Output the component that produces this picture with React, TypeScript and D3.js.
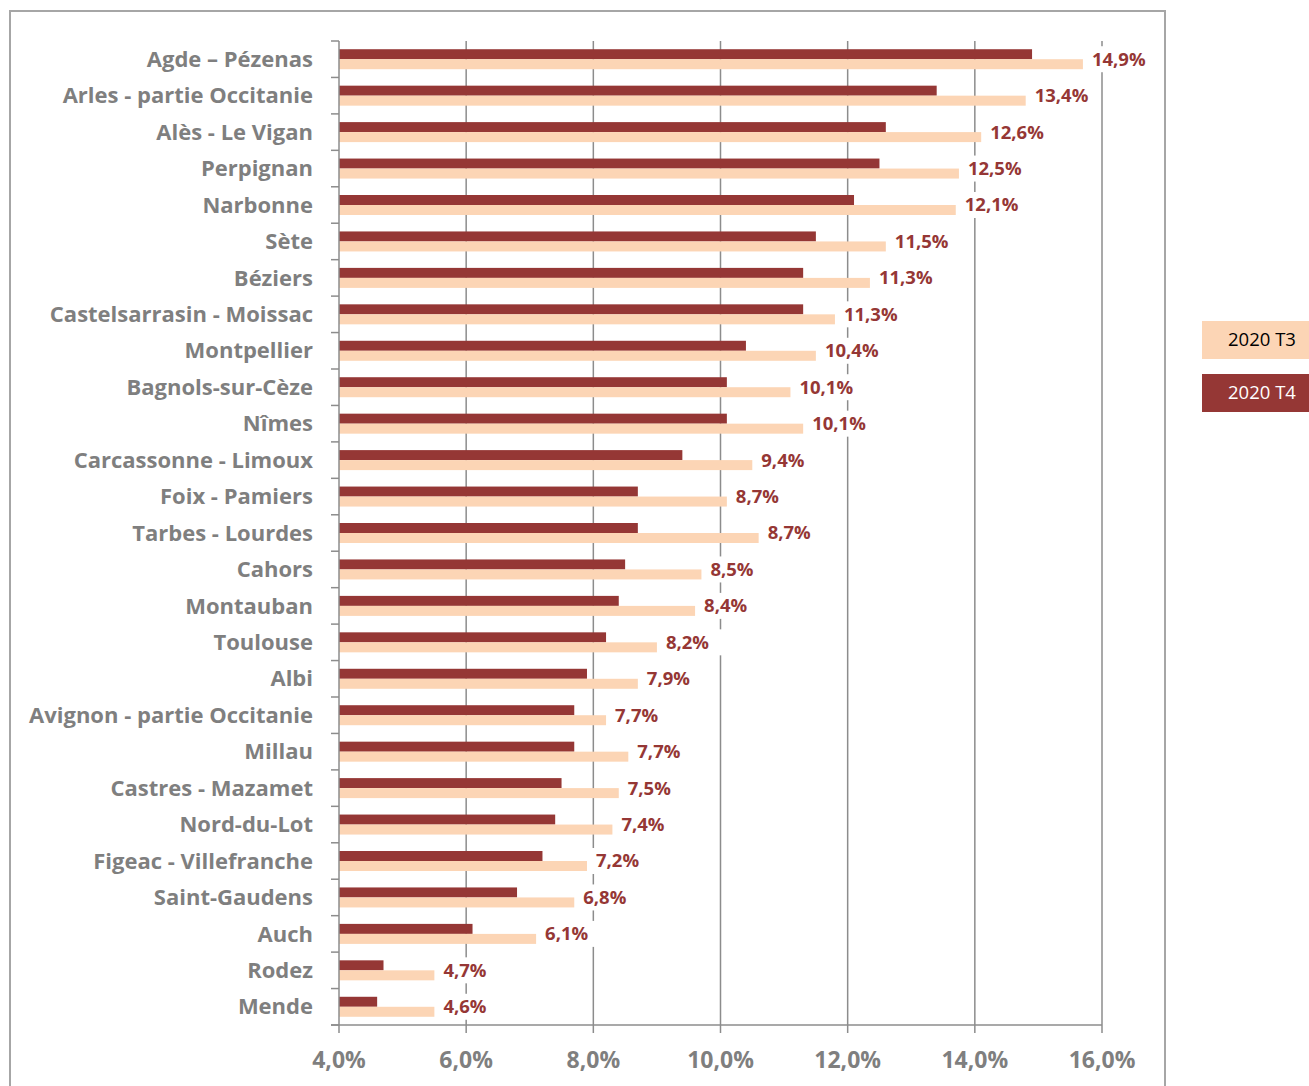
import * as d3 from 'd3'

const CATEGORIES = [
  'Agde – Pézenas', 'Arles - partie Occitanie', 'Alès - Le Vigan', 'Perpignan', 'Narbonne',
  'Sète', 'Béziers', 'Castelsarrasin - Moissac', 'Montpellier', 'Bagnols-sur-Cèze',
  'Nîmes', 'Carcassonne - Limoux', 'Foix - Pamiers', 'Tarbes - Lourdes', 'Cahors',
  'Montauban', 'Toulouse', 'Albi', 'Avignon - partie Occitanie', 'Millau',
  'Castres - Mazamet', 'Nord-du-Lot', 'Figeac - Villefranche', 'Saint-Gaudens', 'Auch',
  'Rodez', 'Mende',
]
const T4 = [14.9, 13.4, 12.6, 12.5, 12.1, 11.5, 11.3, 11.3, 10.4, 10.1, 10.1, 9.4, 8.7, 8.7, 8.5, 8.4, 8.2, 7.9, 7.7, 7.7, 7.5, 7.4, 7.2, 6.8, 6.1, 4.7, 4.6]
const T3 = [15.7, 14.8, 14.1, 13.75, 13.7, 12.6, 12.35, 11.8, 11.5, 11.1, 11.3, 10.5, 10.1, 10.6, 9.7, 9.6, 9.0, 8.7, 8.2, 8.55, 8.4, 8.3, 7.9, 7.7, 7.1, 5.5, 5.5]
const X_TICKS = [4, 6, 8, 10, 12, 14, 16]
const SERIES = ['2020 T3', '2020 T4']

const W = 1309
const H = 1086
const PLOT = { left: 339, right: 1102, top: 41, bottom: 1025 }
const C_T3 = '#FCD5B5'
const C_T4 = '#953735'
const GRID = '#8c8c8c'
const TEXT_GRAY = '#7f7f7f'
const FONT = "'Open Sans', Lato, sans-serif"

const fmt = (v: number) => v.toFixed(1).replace('.', ',') + '%'

export default function App() {
  const x = d3.scaleLinear().domain([4, 16]).range([PLOT.left, PLOT.right])
  const y = d3.scaleBand<string>().domain(CATEGORIES).range([PLOT.top, PLOT.bottom])
  const bw = y.bandwidth()
  const barH = 10
  const legendY = [321, 374]

  return (
    <svg width={W} height={H} style={{ position: 'absolute', left: 0, top: 0, background: '#fff' }} fontFamily={FONT}>
      {/* frame */}
      <rect x={10} y={11} width={1155} height={H + 20} fill="#fff" stroke="#a6a6a6" strokeWidth={2} />

      {/* gridlines */}
      {X_TICKS.slice(1).map((t) => (
        <line key={t} x1={x(t)} x2={x(t)} y1={PLOT.top} y2={PLOT.bottom} stroke={GRID} strokeWidth={1.5} />
      ))}

      {/* bars */}
      {CATEGORIES.map((c, i) => {
        const y0 = (y(c) ?? 0) + bw / 2 - barH
        return (
          <g key={c}>
            <rect x={x(4)} y={y0} width={x(T4[i]) - x(4)} height={barH} fill={C_T4} />
            <rect x={x(4)} y={y0 + barH} width={x(T3[i]) - x(4)} height={barH} fill={C_T3} />
          </g>
        )
      })}

      {/* value labels with white boxes */}
      {CATEGORIES.map((c, i) => {
        const lx = x(T3[i]) + 9
        const cy = (y(c) ?? 0) + bw / 2
        return (
          <g key={'l' + c}>
            <rect x={lx - 4} y={cy - 13} width={64} height={26} fill="#fff" />
            <text x={lx} y={cy} dy="0.35em" fontSize={18.5} fontWeight={700} fill={C_T4}>
              {fmt(T4[i])}
            </text>
          </g>
        )
      })}

      {/* y axis */}
      <line x1={PLOT.left} x2={PLOT.left} y1={PLOT.top} y2={PLOT.bottom} stroke={GRID} strokeWidth={1.5} />
      {d3.range(CATEGORIES.length + 1).map((k) => {
        const yy = PLOT.top + k * bw
        return <line key={'yt' + k} x1={PLOT.left - 8} x2={PLOT.left} y1={yy} y2={yy} stroke={GRID} strokeWidth={1.5} />
      })}
      {CATEGORIES.map((c) => (
        <text key={'c' + c} x={313} y={(y(c) ?? 0) + bw / 2} dy="0.35em" textAnchor="end" fontSize={22} fontWeight={700} fill={TEXT_GRAY}>
          {c}
        </text>
      ))}

      {/* x axis */}
      <line x1={PLOT.left - 8} x2={PLOT.right} y1={PLOT.bottom} y2={PLOT.bottom} stroke={GRID} strokeWidth={1.5} />
      {X_TICKS.map((t) => (
        <g key={'xt' + t}>
          <line x1={x(t)} x2={x(t)} y1={PLOT.bottom} y2={PLOT.bottom + 8} stroke={GRID} strokeWidth={1.5} />
          <text x={x(t)} y={PLOT.bottom + 43} textAnchor="middle" fontSize={23} fontWeight={700} fill={TEXT_GRAY}>
            {fmt(t)}
          </text>
        </g>
      ))}

      {/* legend */}
      {SERIES.map((s, i) => (
        <g key={s}>
          <rect x={1202} y={legendY[i]} width={107} height={38} fill={i === 0 ? C_T3 : C_T4} />
          <text x={1262} y={legendY[i] + 19} dy="0.35em" textAnchor="middle" fontSize={18.5} fill={i === 0 ? '#000' : '#fff'}>
            {s}
          </text>
        </g>
      ))}
    </svg>
  )
}
